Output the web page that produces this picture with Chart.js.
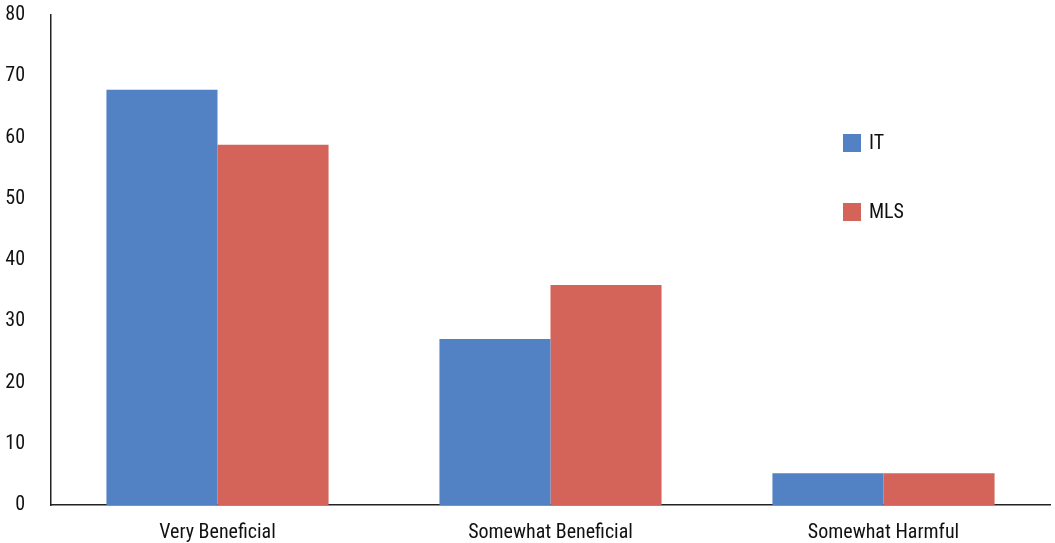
<!DOCTYPE html>
<html>
<head>
<meta charset="utf-8">
<script src="https://cdn.jsdelivr.net/npm/chart.js@4"></script>
<style>
  html, body { margin: 0; padding: 0; background: #fff; }
</style>
</head>
<body>
<canvas id="myChart" width="1055" height="543"></canvas>
<script>
const categories = ['Very Beneficial', 'Somewhat Beneficial', 'Somewhat Harmful'];
const seriesNames = ['IT', 'MLS'];
const itValues = [67.8, 27.1, 5.2];
const mlsValues = [58.8, 35.9, 5.2];
const yTicks = [0, 10, 20, 30, 40, 50, 60, 70, 80];

const colors = ['#5382C4', '#D46459'];
const fontFamily = '"Liberation Sans Narrow", "Roboto Condensed", Roboto, sans-serif';

// legend drawn inside the plot area, right side
const sideLegend = {
	id: 'sideLegend',
	afterDraw(chart) {
		const c = chart.ctx;
		c.save();
		c.font = `20px ${fontFamily}`;
		c.textBaseline = 'middle';
		chart.data.datasets.forEach((ds, i) => {
			const y = 143 + i * 69;
			c.fillStyle = ds.backgroundColor;
			c.fillRect(843, y - 9, 18, 18);
			c.fillStyle = '#111';
			c.fillText(ds.label, 869, y + 1);
		});
		c.restore();
	},
};

const ctx = document.getElementById('myChart');
new Chart(ctx, {
	type: 'bar',
	data: {
		labels: categories,
		datasets: [
			{ label: seriesNames[0], data: itValues, backgroundColor: colors[0] },
			{ label: seriesNames[1], data: mlsValues, backgroundColor: colors[1] },
		],
	},
	options: {
		responsive: false,
		animation: false,
		layout: { padding: { top: 0, right: 5, left: 0, bottom: 0 } },
		datasets: {
			bar: { categoryPercentage: 0.667, barPercentage: 1.0 },
		},
		plugins: {
			legend: { display: false },
			tooltip: { enabled: false },
		},
		scales: {
			x: {
				afterFit: (scale) => { scale.height = 38; },
				grid: { display: false, drawTicks: false },
				border: { display: true, color: '#222', width: 1.5 },
				ticks: { color: '#111', padding: 16, font: { family: fontFamily, size: 20 } },
			},
			y: {
				min: 0,
				max: 80,
				afterFit: (scale) => {
					scale.width = 51;
					scale.paddingTop = 15;
					scale.paddingBottom = 0;
				},
				afterBuildTicks: (scale) => { scale.ticks = yTicks.map((v) => ({ value: v })); },
				grid: { display: false, drawTicks: false },
				border: { display: true, color: '#222', width: 1.5 },
				ticks: { color: '#111', padding: 26, font: { family: fontFamily, size: 20 } },
			},
		},
	},
	plugins: [sideLegend],
});
</script>
</body>
</html>
